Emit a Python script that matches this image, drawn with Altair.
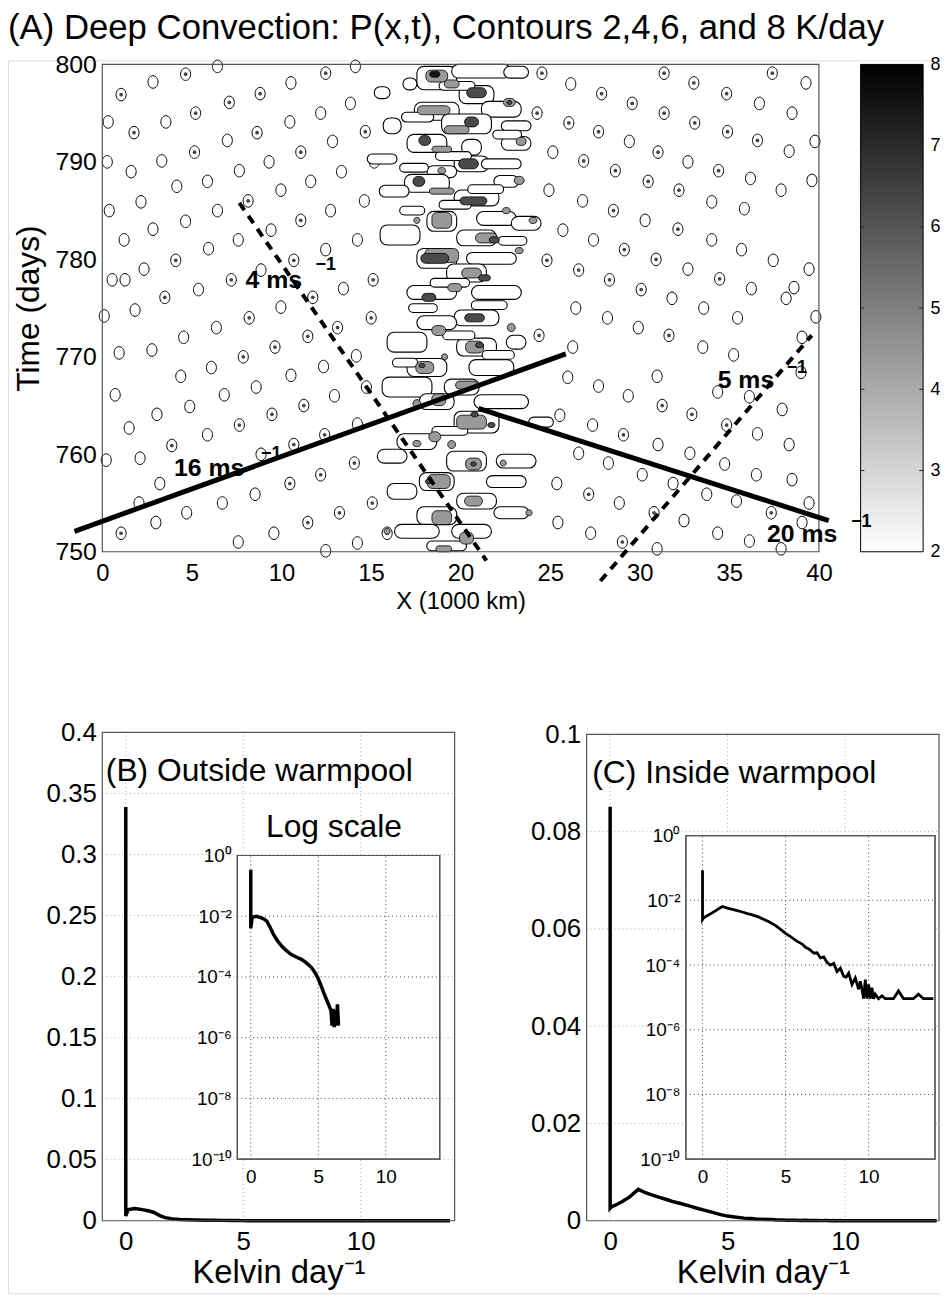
import altair as alt
import pandas as pd

FONT = "Liberation Sans"
TITLE = "(A) Deep Convection: P(x,t), Contours 2,4,6, and 8 K/day"

# ---------------- Panel A : isolated convective cells ----------------
# x in 1000 km, t in days, core = 1 when an inner (4 K/day) contour is present
ring_x = [4.65, 6.43, 2.83, 1.05, 10.53, 12.47, 14.13, 7.09, 8.81, 5.21,
          0.33, 1.77, 3.55, 8.64, 10.47, 12.19, 13.85, 14.68, 12.85, 6.98,
          5.15, 11.08, 0.28, 3.32, 1.61, 9.31, 7.65, 13.35, 15.18, 5.87,
          4.16, 11.63, 9.97, 2.16, 8.14, 6.43, 0.39, 12.74, 14.63, 11.08,
          4.65, 2.83, 9.42, 7.59, 1.22, 5.93, 14.24, 12.47, 4.10, 10.69,
          2.33, 0.55, 1.27, 8.86, 7.20, 5.37, 15.12, 13.46, 11.75, 9.97,
          8.20, 3.49, 1.83, 0.11, 6.37, 4.54, 11.47, 13.13, 15.01, 9.64,
          7.87, 2.77, 0.94, 6.09, 4.38, 10.53, 12.35, 14.18, 8.59, 14.74,
          12.96, 6.81, 0.72, 4.88, 11.25, 3.05, 9.47, 14.24, 7.65, 1.50,
          5.87, 12.41, 3.88, 10.69, 8.86, 2.11, 0.22, 14.07, 12.19, 10.47,
          3.21, 8.53, 6.70, 15.07, 2.05, 13.24, 4.71, 11.47, 2.99, 1.05,
          9.58, 15.90, 7.59, 14.24, 12.47,
          24.54, 26.15, 27.87, 29.58, 31.36, 33.02, 34.85, 37.40, 39.28, 24.27,
          26.04, 27.70, 31.36, 33.07, 34.90, 36.68, 38.50, 25.15, 26.87, 28.64,
          29.42, 31.02, 32.69, 34.40, 36.57, 38.34, 39.78, 24.93, 26.81, 28.53,
          30.47, 32.19, 34.02, 36.18, 37.89, 35.84, 39.61, 25.71, 27.42, 29.14,
          30.30, 32.13, 34.02, 35.68, 37.45, 24.82, 26.59, 28.31, 30.08, 30.91,
          32.69, 34.46, 36.23, 38.61, 39.45, 31.80, 33.57, 35.46, 26.43, 28.20,
          38.17, 29.92, 31.63, 33.52, 39.83, 24.38, 26.26, 35.24, 39.06, 25.98,
          27.70, 29.36, 30.97, 34.35, 36.12, 39.00, 31.25, 32.91, 34.85, 37.95,
          36.57, 38.34, 25.54, 27.37, 29.09, 31.02, 32.80, 26.59, 28.25, 30.14,
          31.86, 33.74, 34.74, 36.51, 38.50, 25.37, 27.15, 28.86, 30.80, 32.47,
          35.40, 37.34, 39.45, 39.06, 25.43, 27.26, 29.03, 30.97, 34.35, 36.12,
          37.89]
ring_t = [799.0, 799.8, 798.2, 796.9, 798.1, 799.1, 799.8, 796.1, 797.0, 795.0,
          794.1, 793.0, 794.1, 793.0, 794.1, 795.0, 796.0, 793.1, 792.1, 792.2,
          791.0, 791.0, 790.0, 790.1, 789.0, 790.0, 789.1, 789.0, 790.0, 788.0,
          787.5, 788.0, 787.1, 785.9, 786.0, 785.0, 785.0, 785.0, 786.0, 784.0,
          783.9, 783.1, 783.0, 782.0, 782.0, 781.1, 782.0, 781.0, 779.9, 779.9,
          779.0, 777.9, 777.9, 778.9, 777.9, 776.9, 777.9, 777.0, 776.1, 775.1,
          774.0, 776.1, 774.8, 774.2, 773.0, 772.0, 772.1, 773.0, 774.0, 771.0,
          770.0, 770.7, 770.4, 768.9, 768.0, 768.1, 769.0, 770.1, 766.9, 766.9,
          766.0, 766.1, 766.1, 764.9, 765.0, 764.1, 764.1, 763.1, 763.0, 762.7,
          762.0, 762.0, 760.9, 761.0, 760.0, 759.6, 759.4, 759.1, 757.9, 757.0,
          757.0, 755.9, 755.0, 755.0, 755.0, 754.0, 754.0, 753.0, 753.0, 751.9,
          751.9, 751.9, 751.0, 750.9, 750.1,
          799.1, 798.0, 797.0, 796.0, 799.1, 798.1, 797.0, 799.1, 798.1, 795.0,
          794.0, 793.1, 795.0, 794.0, 793.1, 796.0, 795.0, 791.0, 790.1, 789.1,
          792.1, 791.0, 790.0, 789.1, 792.2, 791.1, 792.1, 787.1, 786.0, 785.0,
          788.0, 787.1, 785.9, 788.3, 787.1, 785.2, 788.1, 783.0, 782.0, 781.0,
          784.0, 783.1, 782.0, 781.0, 779.9, 779.9, 778.9, 777.9, 776.9, 780.0,
          779.0, 778.0, 777.0, 777.1, 779.0, 776.0, 775.0, 774.0, 775.0, 774.0,
          776.0, 773.0, 772.2, 771.0, 774.1, 772.2, 771.0, 770.2, 772.0, 767.9,
          767.0, 766.0, 768.0, 766.4, 765.9, 768.4, 765.0, 764.1, 763.0, 764.6,
          762.1, 761.0, 764.0, 763.0, 762.0, 761.0, 760.1, 760.1, 759.1, 757.9,
          757.0, 755.9, 759.0, 757.9, 757.4, 757.0, 755.9, 755.0, 754.0, 753.2,
          755.2, 754.0, 755.0, 753.0, 753.0, 751.9, 751.0, 750.3, 751.9, 751.1,
          750.3]
ring_core = [1, 0, 0, 1, 0, 1, 0, 1, 1, 1,
             0, 1, 0, 1, 0, 0, 0, 1, 0, 0,
             1, 1, 0, 0, 0, 0, 0, 0, 0, 0,
             0, 0, 0, 0, 1, 0, 0, 0, 0, 1,
             0, 0, 0, 0, 0, 0, 0, 0, 1, 1,
             0, 0, 0, 0, 1, 0, 1, 0, 1, 0,
             1, 1, 0, 0, 0, 0, 1, 1, 1, 1,
             1, 0, 0, 0, 0, 0, 0, 0, 0, 1,
             0, 0, 0, 0, 1, 0, 1, 0, 1, 0,
             0, 1, 1, 1, 0, 0, 0, 1, 1, 1,
             0, 0, 0, 1, 0, 1, 0, 1, 0, 1,
             0, 1, 0, 0, 0,
             1, 0, 1, 1, 1, 1, 1, 1, 0, 1,
             1, 1, 1, 1, 1, 0, 0, 0, 1, 1,
             0, 1, 0, 1, 1, 0, 0, 0, 0, 1,
             1, 1, 0, 0, 0, 0, 0, 0, 0, 1,
             0, 1, 0, 0, 0, 1, 1, 1, 1, 1,
             0, 1, 0, 0, 0, 0, 0, 0, 0, 0,
             0, 0, 1, 0, 0, 1, 0, 0, 0, 0,
             0, 0, 0, 0, 0, 0, 1, 1, 1, 0,
             0, 0, 0, 0, 1, 0, 0, 0, 0, 0,
             0, 0, 0, 0, 0, 0, 1, 0, 1, 0,
             0, 1, 0, 0, 0, 0, 1, 0, 0, 0,
             0]

# ---------------- Panel A : warm-pool band, 2 K/day envelopes ----------------
ctr_x = [18.67, 21.16, 23.10, 17.17, 15.62, 20.89, 18.67, 22.27, 16.18, 20.33,
         23.10, 18.12, 20.61, 23.10, 15.62, 20.61, 18.95, 22.27, 18.12, 20.89,
         22.55, 16.29, 18.95, 22.00, 16.62, 20.89, 23.66, 18.67, 21.72, 20.33,
         18.39, 22.00, 20.89, 18.67, 17.01, 20.89, 23.10, 18.12, 21.72, 17.01,
         20.06, 22.27, 18.67, 20.89, 24.49, 17.56, 16.18, 20.33, 23.10, 18.67,
         22.55, 16.73, 20.89, 18.67, 22.83, 17.56, 20.61, 19.22,
         19.80, 17.60, 22.60, 19.60, 17.40, 21.40, 19.70, 17.30, 22.90, 19.40,
         21.60, 17.90, 19.90, 22.10, 16.90, 19.40]
ctr_t = [798.6, 799.3, 799.2, 798.0, 797.1, 796.9, 795.2, 795.4, 793.7, 793.9,
         793.7, 791.9, 791.5, 791.9, 790.3, 789.8, 789.0, 789.8, 787.8, 786.3,
         788.0, 787.0, 783.9, 784.2, 782.5, 782.2, 783.7, 780.1, 780.1, 778.6,
         776.6, 776.6, 774.0, 773.5, 771.5, 771.0, 771.5, 768.9, 768.9, 766.9,
         766.9, 765.4, 765.4, 763.3, 763.3, 761.3, 759.8, 759.3, 759.3, 757.2,
         757.2, 756.2, 755.2, 753.7, 754.0, 752.1, 752.1, 750.6,
         797.8, 794.6, 792.8, 790.6, 789.4, 787.2, 785.6, 785.0, 781.9, 777.6,
         775.3, 775.0, 772.2, 770.2, 769.4, 762.4]
ctr_dx = [1.11, 1.66, 0.69, 0.39, 0.44, 0.97, 1.25, 1.11, 0.50, 1.39,
          0.83, 1.11, 0.55, 0.83, 0.83, 0.97, 0.83, 1.11, 1.25, 1.25,
          0.69, 0.83, 0.83, 1.11, 1.11, 1.11, 0.83, 1.11, 1.39, 1.11,
          1.39, 1.39, 1.25, 1.11, 1.11, 1.11, 0.55, 1.11, 1.25, 1.39,
          0.97, 1.52, 0.97, 1.25, 0.69, 1.11, 0.83, 1.11, 1.11, 0.97,
          1.11, 0.83, 1.11, 1.11, 0.97, 1.25, 1.11, 1.11,
          1.00, 0.90, 0.80, 1.00, 0.80, 1.00, 0.90, 0.70, 0.80, 1.10,
          1.00, 0.80, 0.90, 0.90, 0.70, 1.00]
ctr_dt = [1.20, 0.70, 0.61, 0.61, 0.61, 0.92, 0.92, 0.81, 0.81, 1.02,
          0.51, 0.92, 0.81, 0.71, 0.51, 0.81, 0.61, 0.51, 0.92, 0.81,
          0.61, 0.61, 1.02, 0.71, 1.02, 0.81, 0.71, 1.02, 0.61, 0.92,
          0.71, 0.71, 0.81, 0.71, 1.02, 0.92, 0.71, 0.92, 0.81, 1.02,
          0.81, 0.71, 0.81, 1.12, 0.51, 0.81, 0.71, 1.02, 0.71, 0.92,
          0.61, 0.81, 0.81, 0.92, 0.61, 0.71, 0.71, 0.51,
          0.45, 0.50, 0.45, 0.45, 0.45, 0.45, 0.45, 0.45, 0.45, 0.45,
          0.45, 0.45, 0.45, 0.45, 0.45, 0.45]

# ---------------- Panel A : filled patches above 4, 6, 8 K/day ----------------
pat_x = [18.67, 18.56, 19.50, 20.89, 18.50, 22.72, 22.72, 20.61, 19.78, 18.00,
         18.95, 23.38, 20.44, 18.95, 17.67, 18.95, 20.72, 23.27, 18.95, 17.56,
         22.55, 21.44, 21.88, 24.04, 18.95, 18.56, 20.61, 21.33, 23.27, 18.23,
         19.67, 20.78, 18.78, 22.83, 20.78, 21.05, 18.00, 17.84, 19.11, 20.33,
         18.78, 17.56, 20.61, 20.78, 21.72, 18.56, 19.50, 17.56, 20.72, 20.72,
         22.38, 18.78, 18.23, 20.72, 18.95, 20.33, 15.90, 19.06, 23.82]
pat_t = [798.8, 799.0, 798.0, 797.1, 795.3, 796.1, 796.1, 794.1, 793.3, 792.2,
         791.3, 792.1, 789.8, 789.1, 788.0, 787.0, 786.0, 788.1, 784.0, 784.0,
         785.0, 782.2, 782.0, 784.0, 780.4, 780.1, 778.6, 778.1, 780.9, 776.1,
         777.1, 774.0, 772.7, 773.0, 771.0, 771.2, 768.9, 769.1, 770.0, 767.1,
         765.6, 765.2, 763.3, 764.1, 763.0, 761.8, 761.0, 761.1, 759.0, 759.0,
         759.1, 757.2, 757.2, 755.2, 753.5, 751.4, 752.1, 750.3, 754.0]
pat_dx = [0.61, 0.28, 0.42, 0.55, 0.91, 0.33, 0.14, 0.39, 0.69, 0.33,
          0.55, 0.28, 0.55, 0.22, 0.33, 0.69, 0.75, 0.28, 0.55, 0.17,
          0.22, 0.61, 0.28, 0.22, 0.94, 0.78, 0.55, 0.33, 0.22, 0.39,
          0.39, 0.55, 0.39, 0.22, 0.50, 0.22, 0.50, 0.17, 0.17, 0.61,
          0.39, 0.22, 0.83, 0.20, 0.20, 0.33, 0.22, 0.22, 0.44, 0.15,
          0.17, 0.64, 0.20, 0.50, 0.55, 0.39, 0.17, 0.44, 0.17]
pat_dt = [0.61, 0.31, 0.41, 0.51, 0.46, 0.41, 0.20, 0.51, 0.41, 0.51,
          0.31, 0.41, 0.51, 0.31, 0.51, 0.31, 0.41, 0.41, 0.81, 0.31,
          0.31, 0.51, 0.31, 0.31, 0.71, 0.51, 0.51, 0.31, 0.31, 0.41,
          0.41, 0.41, 0.51, 0.41, 0.61, 0.25, 0.61, 0.20, 0.31, 0.41,
          0.61, 0.41, 0.71, 0.25, 0.25, 0.51, 0.41, 0.31, 0.61, 0.20,
          0.31, 0.71, 0.20, 0.51, 0.71, 0.61, 0.31, 0.31, 0.31]
pat_lev = [4.2, 7.6, 4.2, 6.1, 4.2, 4.2, 6.1, 6.1, 4.2, 6.1,
           4.2, 4.2, 6.1, 4.2, 6.1, 4.2, 6.1, 4.2, 4.2, 4.2,
           4.2, 4.2, 6.1, 4.2, 4.2, 6.1, 4.2, 6.1, 4.2, 6.1,
           4.2, 6.1, 4.2, 4.2, 4.2, 6.1, 4.2, 6.1, 4.2, 4.2,
           4.2, 4.2, 4.2, 6.1, 6.1, 4.2, 4.2, 4.2, 4.2, 6.1,
           4.2, 4.2, 6.1, 4.2, 4.2, 4.2, 4.2, 4.2, 4.2]

# ---------------- Panel A : phase-speed lines and labels ----------------
line_name = ["16", "16", "20", "20", "4", "4", "5", "5"]
line_x = [-1.55, 25.87, 21.00, 40.55, 7.65, 21.44, 27.80, 39.60]
line_t = [752.1, 770.3, 764.7, 753.2, 785.8, 749.1, 747.0, 772.2]
line_dashed = [0, 0, 0, 0, 1, 1, 1, 1]
lab_text = ["4 ms", "16 ms", "5 ms", "20 ms"]
lab_x = [8.0, 4.0, 34.35, 37.1]
lab_t = [777.9, 758.6, 767.6, 751.8]
sup_x = [11.9, 8.86, 38.2, 41.8]
sup_t = [779.4, 760.0, 768.9, 753.0]

XA_DOM = [0, 40]
TA_DOM = [750, 800]
XA_TICKS = [0, 5, 10, 15, 20, 25, 30, 35, 40]
TA_TICKS = [750, 760, 770, 780, 790, 800]
CBAR_DOM = [2, 8]
CBAR_TICKS = [2, 3, 4, 5, 6, 7, 8]

# ---------------- Panels B, C : PDFs of heating (log10 of density) ----------------
kb_x = [0, 0, 0.1, 0.4, 0.7, 1.0, 1.2, 1.45, 1.68, 2.0, 2.29, 2.6, 3.0, 3.4, 3.75,
        4.1, 4.5, 4.75, 4.96, 5.2, 5.45, 5.7, 5.94, 6.02, 6.1, 6.18, 6.26, 6.34,
        6.42, 6.5, 6.6, 13.8]
kb_lg = [-0.47, -2.4, -2.04, -2.0, -2.04, -2.1, -2.17, -2.38, -2.6, -2.82, -2.98,
         -3.12, -3.26, -3.35, -3.42, -3.53, -3.69, -3.85, -4.02, -4.28, -4.57,
         -4.84, -5.1, -5.6, -5.05, -5.65, -5.1, -5.6, -4.9, -5.6, -12, -12]
kc_x = [0, 0, 0.05, 0.3, 0.5, 0.8, 1.0, 1.2, 1.5, 1.8, 2.1, 2.4, 2.7, 3.0, 3.4,
        3.7, 4.0, 4.4, 4.7, 5.0, 5.3, 5.7, 6.0, 6.2, 6.4, 6.7, 6.9, 7.1, 7.3, 7.5,
        7.7, 7.9, 8.1, 8.3, 8.5, 8.65, 8.8, 9.0, 9.2, 9.4, 9.5, 9.6, 9.7, 9.8,
        9.9, 10.0, 10.1, 10.2, 10.3, 10.4, 10.6, 10.8, 11.0, 11.2, 11.5, 11.8,
        12.1, 12.4, 12.7, 13.0, 13.3, 13.6, 13.9]
kc_lg = [-1.07, -2.59, -2.55, -2.47, -2.41, -2.32, -2.25, -2.19, -2.24, -2.28,
         -2.32, -2.36, -2.41, -2.45, -2.52, -2.59, -2.66, -2.78, -2.9, -3.02,
         -3.12, -3.27, -3.35, -3.45, -3.5, -3.63, -3.62, -3.78, -3.75, -3.92,
         -4.0, -3.95, -4.2, -4.1, -4.35, -4.37, -4.25, -4.6, -4.4, -4.75,
         -4.5, -4.74, -5.04, -4.45, -5.04, -4.6, -5.04, -4.7, -5.04, -4.9,
         -5.04, -4.95, -5.04, -5.04, -5.04, -4.8, -5.04, -5.04, -5.04, -4.9,
         -5.04, -5.04, -5.04]

K_DOM = [-1, 14]
K_TICKS = [0, 5, 10]
PB_DOM = [0, 0.4]
PB_TICKS = [0, 0.05, 0.1, 0.15, 0.2, 0.25, 0.3, 0.35, 0.4]
PB_GRID = [0.05, 0.1, 0.15, 0.2, 0.25, 0.3, 0.35]
PC_DOM = [0, 0.1]
PC_TICKS = [0, 0.02, 0.04, 0.06, 0.08, 0.1]
PC_GRID = [0.02, 0.04, 0.06, 0.08]
LOG_DOM = [1e-10, 1]
LOG_TICKS = [1e-10, 1e-8, 1e-6, 1e-4, 1e-2, 1]
LOG_GRID = [1e-8, 1e-6, 1e-4, 1e-2]

# ====================================================================
W, H = 939, 1242
OVAL = "M -0.8 0 A 0.8 1 0 1 0 0.8 0 A 0.8 1 0 1 0 -0.8 0 Z"


def axis(orient, offset, values, title, lsize, tsize=32, lpad=6, tpad=6,
         fmt=None, expr=None):
    kw = dict(orient=orient, offset=offset, values=values, title=title,
              grid=False, ticks=False, domain=False,
              labelFontSize=lsize, titleFontSize=tsize, labelFont=FONT,
              titleFont=FONT, titleFontWeight="normal", labelColor="black",
              titleColor="black", labelPadding=lpad, titlePadding=tpad,
              labelFlush=False, labelOverlap=False, labelBound=False)
    if fmt:
        kw["format"] = fmt
    if expr:
        kw["labelExpr"] = expr
    return alt.Axis(**kw)


def qx(f, sc, ax):
    return alt.X(f"{f}:Q", scale=sc, axis=ax)


def qy(f, sc, ax):
    return alt.Y(f"{f}:Q", scale=sc, axis=ax)


def frame(xd, yd, sx, sy, ax, ay, fill=None, color="#555", width=1.2):
    df = pd.DataFrame({"x0": [xd[0]], "x1": [xd[1]], "y0": [yd[0]], "y1": [yd[1]]})
    if fill:
        mk = alt.Chart(df).mark_rect(fill=fill, stroke=color, strokeWidth=width)
    else:
        mk = alt.Chart(df).mark_rect(fillOpacity=0, stroke=color, strokeWidth=width)
    return mk.encode(x=qx("x0", sx, ax), x2="x1:Q", y=qy("y0", sy, ay), y2="y1:Q")


def grid(xvals, yvals, xd, yd, sx, sy, ax, ay, color):
    dv = pd.DataFrame({"gx": xvals, "y0": [yd[0]] * len(xvals), "y1": [yd[1]] * len(xvals)})
    dh = pd.DataFrame({"gy": yvals, "x0": [xd[0]] * len(yvals), "x1": [xd[1]] * len(yvals)})
    v = alt.Chart(dv).mark_rule(color=color, strokeDash=[1, 3], strokeWidth=1).encode(
        x=qx("gx", sx, ax), y=qy("y0", sy, ay), y2="y1:Q")
    h = alt.Chart(dh).mark_rule(color=color, strokeDash=[1, 3], strokeWidth=1).encode(
        y=qy("gy", sy, ay), x=qx("x0", sx, ax), x2="x1:Q")
    return [v, h]


# ---------------- Colorbar (drawn first so annotations can overlap it) ----------------
sxCB = alt.Scale(domain=[0, 1], range=[859, 922], nice=False, zero=False)
syCB = alt.Scale(domain=CBAR_DOM, range=[495, 4], nice=False, zero=False)
axCBx = axis("bottom", 495 - H, [], "", 10, 10)
axCBy = axis("right", 922 - W, CBAR_TICKS, "", 18, 18, 7, 2, fmt="d")
cb_df = pd.DataFrame({"x0": [0], "x1": [1], "c0": [CBAR_DOM[0]], "c1": [CBAR_DOM[1]]})
cbar = alt.Chart(cb_df).mark_rect(
    fill=alt.LinearGradient(
        gradient="linear",
        stops=[alt.GradientStop(color="#ffffff", offset=0),
               alt.GradientStop(color="#000000", offset=1)],
        x1=0, x2=0, y1=1, y2=0),
    stroke="black", strokeWidth=1
).encode(x=qx("x0", sxCB, axCBx), x2="x1:Q", y=qy("c0", syCB, axCBy), y2="c1:Q")
cb_ticks = pd.DataFrame({"c": CBAR_TICKS[1:-1], "x0": [0] * 5, "x1": [0.06] * 5,
                         "x2": [0.94] * 5, "x3": [1] * 5})
cb_tick_l = alt.Chart(cb_ticks).mark_rule(color="#222", strokeWidth=1).encode(
    x=qx("x0", sxCB, axCBx), x2="x1:Q", y=qy("c", syCB, axCBy))
cb_tick_r = alt.Chart(cb_ticks).mark_rule(color="#222", strokeWidth=1).encode(
    x=qx("x2", sxCB, axCBx), x2="x3:Q", y=qy("c", syCB, axCBy))
colorbar = alt.layer(cbar, cb_tick_l, cb_tick_r)

# ---------------- Panel A ----------------
sxA = alt.Scale(domain=XA_DOM, range=[95, 817], nice=False, zero=False)
syA = alt.Scale(domain=TA_DOM, range=[495, 4], nice=False, zero=False)
axAx = axis("bottom", 495 - H, XA_TICKS, "X (1000 km)", 24, 24, 10, 4, fmt="d")
axAy = axis("left", -95, TA_TICKS, "Time (days)", 25, 32, 6, 10, fmt="d")

rings = pd.DataFrame({"x": ring_x, "t": ring_t, "core": ring_core})
ring_layer = alt.Chart(rings).mark_point(
    shape=OVAL, size=160, filled=False, color="black", strokeWidth=1, opacity=1
).encode(x=qx("x", sxA, axAx), y=qy("t", syA, axAy))
core_layer = alt.Chart(rings).transform_filter("datum.core == 1").mark_point(
    shape="circle", size=14, filled=True, color="#444", opacity=1
).encode(x=qx("x", sxA, axAx), y=qy("t", syA, axAy))

ctr = pd.DataFrame({"x": ctr_x, "t": ctr_t, "dx": ctr_dx, "dt": ctr_dt})
outline_layer = alt.Chart(ctr).transform_calculate(
    x0="datum.x - datum.dx", x1="datum.x + datum.dx",
    t0="datum.t - datum.dt", t1="datum.t + datum.dt"
).mark_rect(fill="white", stroke="black", strokeWidth=1.1, cornerRadius=7).encode(
    x=qx("x0", sxA, axAx), x2="x1:Q", y=qy("t0", syA, axAy), y2="t1:Q")

cscale = alt.Scale(domain=CBAR_DOM, range=["#ffffff", "#000000"])
pat = pd.DataFrame({"x": pat_x, "t": pat_t, "dx": pat_dx, "dt": pat_dt, "lev": pat_lev})
patch_layer = alt.Chart(pat).transform_calculate(
    x0="datum.x - datum.dx", x1="datum.x + datum.dx",
    t0="datum.t - datum.dt", t1="datum.t + datum.dt"
).mark_rect(stroke="black", strokeWidth=0.8, cornerRadius=5).encode(
    x=qx("x0", sxA, axAx), x2="x1:Q", y=qy("t0", syA, axAy), y2="t1:Q",
    color=alt.Color("lev:Q", scale=cscale, legend=None))

lines = pd.DataFrame({"name": line_name, "x": line_x, "t": line_t, "dashed": line_dashed})
solid_layer = alt.Chart(lines).transform_filter("datum.dashed == 0").mark_line(
    color="black", strokeWidth=5, clip=False
).encode(x=qx("x", sxA, axAx), y=qy("t", syA, axAy), detail="name:N")
dash_layer = alt.Chart(lines).transform_filter("datum.dashed == 1").mark_line(
    color="black", strokeWidth=4, strokeDash=[9, 7], clip=False
).encode(x=qx("x", sxA, axAx), y=qy("t", syA, axAy), detail="name:N")

labs = pd.DataFrame({"txt": lab_text, "x": lab_x, "t": lab_t})
sups = pd.DataFrame({"txt": ["\u22121"] * len(sup_x), "x": sup_x, "t": sup_t})
lab_layer = alt.Chart(labs).mark_text(
    font=FONT, fontSize=25, fontWeight="bold", align="left", baseline="middle",
    color="black"
).encode(x=qx("x", sxA, axAx), y=qy("t", syA, axAy), text="txt:N")
sup_layer = alt.Chart(sups).mark_text(
    font=FONT, fontSize=18, fontWeight="bold", align="left", baseline="middle",
    color="black"
).encode(x=qx("x", sxA, axAx), y=qy("t", syA, axAy), text="txt:N")

panelA = alt.layer(ring_layer, core_layer, outline_layer, patch_layer,
                   frame(XA_DOM, TA_DOM, sxA, syA, axAx, axAy),
                   solid_layer, dash_layer, lab_layer, sup_layer)


# ---------------- Panels B and C (linear) with log insets ----------------
def pdf_panel(kx, klg, xr, yr, ydom, yticks, ygrid, label):
    sx = alt.Scale(domain=K_DOM, range=xr, nice=False, zero=False)
    sy = alt.Scale(domain=ydom, range=yr, nice=False, zero=False)
    ax = axis("bottom", yr[0] - H, K_TICKS, "Kelvin day\u207b\u00b9", 26, 33, 8, 2, fmt="d")
    ay = axis("left", -xr[0], yticks, "", 26, 26, 6, 4, fmt="~g")
    df = pd.DataFrame({"k": kx, "lg": klg, "i": list(range(len(kx)))})
    curve = alt.Chart(df).transform_calculate(p="pow(10, datum.lg)").mark_line(
        color="black", strokeWidth=3.5, clip=False
    ).encode(x=qx("k", sx, ax), y=qy("p", sy, ay), order="i:Q")
    texts = pd.DataFrame(label)
    txt = alt.Chart(texts).mark_text(
        font=FONT, fontSize=32, align="left", baseline="alphabetic", color="black"
    ).encode(x=qx("x", sx, ax), y=qy("y", sy, ay), text="txt:N")
    layers = grid(K_TICKS, ygrid, K_DOM, ydom, sx, sy, ax, ay, "#aaa")
    layers += [curve, txt, frame(K_DOM, ydom, sx, sy, ax, ay)]
    return alt.layer(*layers)


def pdf_inset(kx, klg, xr, yr, width):
    sx = alt.Scale(domain=K_DOM, range=xr, nice=False, zero=False)
    sy = alt.Scale(type="log", domain=LOG_DOM, range=yr, nice=False)
    expr = ("datum.value > 0.5 ? '10\u2070' : datum.value > 0.005 ? '10\u207b\u00b2' : "
            "datum.value > 5e-5 ? '10\u207b\u2074' : datum.value > 5e-7 ? '10\u207b\u2076' : "
            "datum.value > 5e-9 ? '10\u207b\u2078' : '10\u207b\u00b9\u2070'")
    ax = axis("bottom", yr[0] - H, K_TICKS, "", 19, 19, 8, 2, fmt="d")
    ay = axis("left", -xr[0], LOG_TICKS, "", 19, 19, 6, 2, expr=expr)
    df = pd.DataFrame({"k": kx, "lg": klg, "i": list(range(len(kx)))})
    curve = alt.Chart(df).transform_filter("datum.lg > -8").transform_calculate(
        p="pow(10, datum.lg)"
    ).mark_line(color="black", strokeWidth=width, clip=False).encode(
        x=qx("k", sx, ax), y=qy("p", sy, ay), order="i:Q")
    layers = [frame(K_DOM, LOG_DOM, sx, sy, ax, ay, fill="white")]
    layers += grid(K_TICKS, LOG_GRID, K_DOM, LOG_DOM, sx, sy, ax, ay, "#444")
    layers += [curve, frame(K_DOM, LOG_DOM, sx, sy, ax, ay)]
    return alt.layer(*layers)


panelB = pdf_panel(kb_x, kb_lg, [95, 450], [1169, 677], PB_DOM, PB_TICKS, PB_GRID,
                   {"txt": ["(B) Outside warmpool", "Log scale"],
                    "x": [-0.85, 5.97], "y": [0.36, 0.314]})
insetB = pdf_inset(kb_x, kb_lg, [231, 435], [1107, 801], 3.5)
panelC = pdf_panel(kc_x, kc_lg, [583, 938], [1169, 679], PC_DOM, PC_TICKS, PC_GRID,
                   {"txt": ["(C) Inside warmpool"], "x": [-0.76], "y": [0.09]})
insetC = pdf_inset(kc_x, kc_lg, [683, 934], [1107, 781], 2.8)

chart = alt.layer(colorbar, panelA, panelB, insetB, panelC, insetC).resolve_scale(
    x="independent", y="independent"
).properties(
    width=W, height=H,
    padding={"left": 0, "top": 48, "right": 0, "bottom": 0},
    autosize=alt.AutoSizeParams(type="none"),
    title=alt.TitleParams(TITLE, anchor="start", fontSize=35, font=FONT,
                          fontWeight="normal", offset=7, color="black", frame="group"),
).configure_view(stroke=None).configure(font=FONT)

chart.save("out.html", embed_options={"renderer": "svg", "actions": False})
